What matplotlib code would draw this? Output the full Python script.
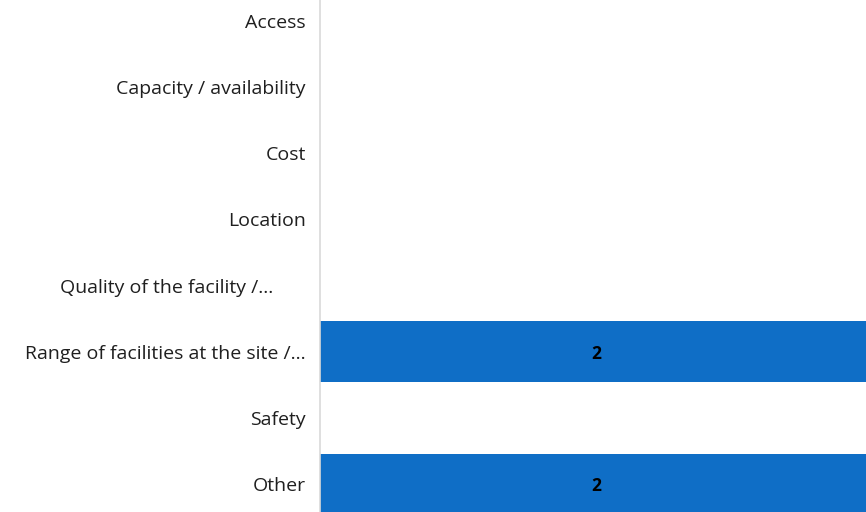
import matplotlib
matplotlib.use("Agg")
import matplotlib.pyplot as plt
import matplotlib.transforms as mtransforms

categories = ["Access", "Capacity / availability", "Cost", "Location",
              "Quality of the facility /\u2026", "Range of facilities at the site /\u2026",
              "Safety", "Other"]
values = [0, 0, 0, 0, 0, 2, 0, 2]
# extra shift (px) for labels that sit further left in the original
label_shift = [0, 0, 0, 0, 33, 0, 0, 0]

plt.rcParams['font.family'] = ['Open Sans', 'DejaVu Sans']

fig = plt.figure(figsize=(8.66, 5.12), dpi=100)
ax = fig.add_axes([320 / 866, 0, 546 / 866, 1])

ypos = list(range(len(categories)))
bars = ax.barh(ypos, values, height=0.92, color="#0F6EC6")

for y, v in zip(ypos, values):
    if v > 0:
        off = mtransforms.ScaledTranslation(0, -2 / 100, fig.dpi_scale_trans)
        ax.text(v / 2, y, str(v), ha="center", va="center",
                fontsize=12.5, fontweight="bold", color="black",
                transform=ax.transData + off)

# category labels on the left
for y, name, shift in zip(ypos, categories, label_shift):
    off = mtransforms.ScaledTranslation(-(14 + shift) / 100, -2 / 100, fig.dpi_scale_trans)
    trans = mtransforms.blended_transform_factory(ax.transAxes, ax.transData) + off
    ax.text(0, y, name, ha="right", va="center", fontsize=14,
            color="#1f1f1f", transform=trans)

ax.set_xlim(0, 1.975)
ax.set_ylim(7.423, -0.3175)
ax.set_xticks([])
ax.set_yticks([])
for s in ["top", "right", "bottom"]:
    ax.spines[s].set_visible(False)
ax.spines["left"].set_color("#d9d9d9")
ax.spines["left"].set_linewidth(1.2)

fig.savefig("out.png", dpi=100)
